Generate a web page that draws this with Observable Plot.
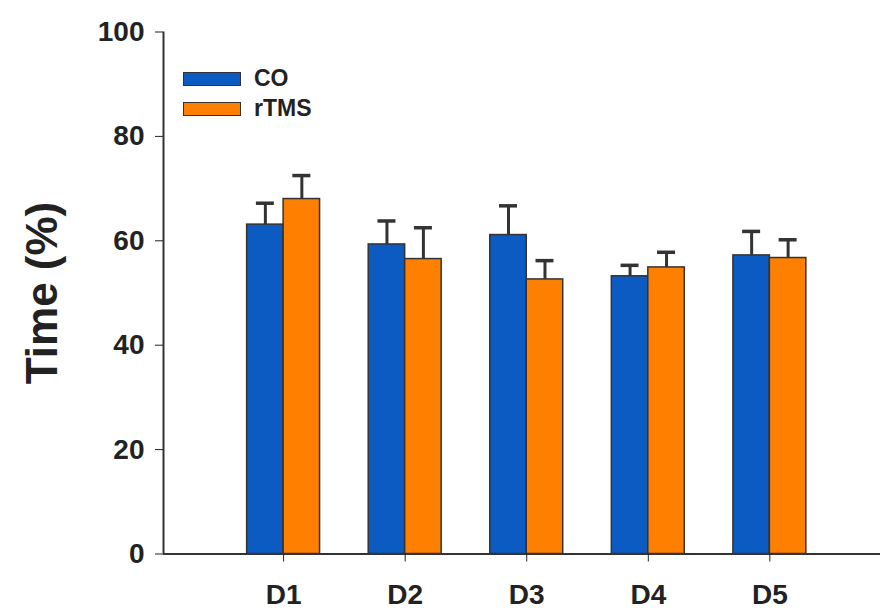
<!DOCTYPE html>
<html>
<head>
<meta charset="utf-8">
<script src="https://cdn.jsdelivr.net/npm/d3@7"></script>
<script src="https://cdn.jsdelivr.net/npm/@observablehq/plot@0.6"></script>
<style>
  html, body { margin: 0; padding: 0; background: #fff; }
  #wrap { position: relative; width: 882px; height: 616px; font-family: "Liberation Sans", Arial, sans-serif; }
  .legend-item { position: absolute; display: flex; align-items: center; }
  .swatch { width: 56px; height: 12px; border: 1.5px solid #333; box-sizing: content-box; }
  .legend-label { margin-left: 13px; font-weight: bold; font-size: 23px; color: #222; }
</style>
</head>
<body>
<div id="wrap"></div>
<script>
// ---- data ----
const days = ["D1", "D2", "D3", "D4", "D5"];
const groups = ["CO", "rTMS"];
const coMean = [63.1, 59.3, 61.1, 53.2, 57.2];
const coSEM = [4.1, 4.5, 5.6, 2.1, 4.6];
const rtmsMean = [68.0, 56.5, 52.6, 54.9, 56.7];
const rtmsSEM = [4.5, 6.0, 3.6, 2.9, 3.5];
const yTicks = [0, 20, 40, 60, 80, 100];
const colors = ["#0b5bc3", "#ff8000"];

// ---- layout helpers ----
const barW = 0.3;      // bar width in day units
const capHalf = 0.074; // error cap half width in day units
const xDomain = [0.012, 5.91];

const rows = days.flatMap((d, i) => [
  {day: d, pos: i + 1, group: groups[0], mean: coMean[i], sem: coSEM[i], side: -1},
  {day: d, pos: i + 1, group: groups[1], mean: rtmsMean[i], sem: rtmsSEM[i], side: 1}
]);
const center = d => d.pos + d.side * barW / 2;

const chart = Plot.plot({
  width: 882,
  height: 616,
  marginLeft: 163,
  marginRight: 2,
  marginTop: 31.5,
  marginBottom: 62.5,
  style: {fontFamily: "'Liberation Sans', Arial, sans-serif", background: "#fff", color: "#222"},
  x: {type: "linear", domain: xDomain},
  y: {domain: [0, 100]},
  color: {domain: groups, range: colors},
  marks: [
    Plot.rectY(rows, {
      x1: d => d.side < 0 ? d.pos - barW : d.pos,
      x2: d => d.side < 0 ? d.pos : d.pos + barW,
      y1: 0, y2: "mean",
      fill: "group", stroke: "#333", strokeWidth: 1.5
    }),
    Plot.ruleX(rows, {x: center, y1: "mean", y2: d => d.mean + d.sem, stroke: "#333", strokeWidth: 3}),
    Plot.ruleY(rows, {x1: d => center(d) - capHalf, x2: d => center(d) + capHalf, y: d => d.mean + d.sem, stroke: "#333", strokeWidth: 3.5}),
    Plot.ruleY([0], {stroke: "#333", strokeWidth: 2}),
    Plot.ruleX([xDomain[0]], {stroke: "#333", strokeWidth: 2}),
    Plot.axisY({ticks: yTicks, tickSize: 8, tickPadding: 11, fontSize: 28, fontWeight: "bold", label: null, color: "#222"}),
    Plot.axisX({ticks: [1, 2, 3, 4, 5], tickFormat: d => days[d - 1], tickSize: 8, tickPadding: 22, fontSize: 28, fontWeight: "bold", label: null, color: "#222"}),
    Plot.text(["Time (%)"], {frameAnchor: "left", textAnchor: "middle", rotate: -90, dx: -121, dy: 0, fontSize: 44, fontWeight: "bold", fill: "#222"})
  ]
});

const wrap = document.getElementById("wrap");
wrap.appendChild(chart);

// legend (inside plot area, top-left)
const legendPos = [{top: 65}, {top: 95}];
groups.forEach((g, i) => {
  const item = document.createElement("div");
  item.className = "legend-item";
  item.style.left = "183px";
  item.style.top = legendPos[i].top + "px";
  const sw = document.createElement("div");
  sw.className = "swatch";
  sw.style.background = colors[i];
  const lab = document.createElement("span");
  lab.className = "legend-label";
  lab.textContent = g;
  item.appendChild(sw);
  item.appendChild(lab);
  wrap.appendChild(item);
});
</script>
</body>
</html>
